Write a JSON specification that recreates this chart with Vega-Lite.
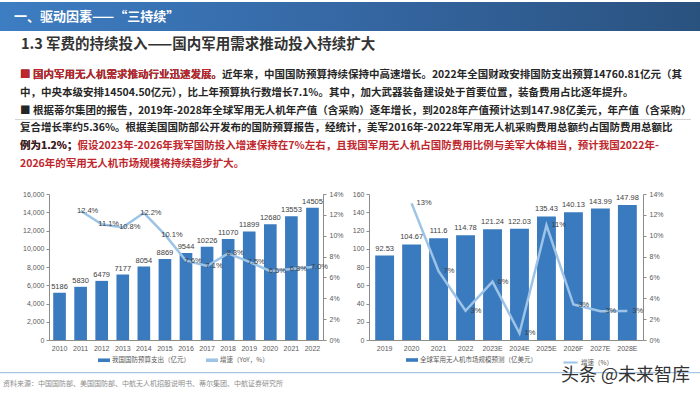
{
  "$schema": "https://vega.github.io/schema/vega-lite/v6.json",
  "padding": {"top": 2, "left": 0, "right": 0, "bottom": 0},
  "background": "white",
  "bounds": "flush",
  "spacing": 0,
  "datasets": {
    "one": [{"k": 1}],
    "header": [{"t": "一、驱动因素——“三持续”"}],
    "sub": [{"t": "1.3 军费的持续投入——国内军用需求推动投入持续扩大"}],
    "body": [
      {"line": 1, "tone": "k", "t": "■ 国内军用无人机需求推动行业迅速发展。近年来，中国国防预算持续保持中高速增长。2022年全国财政安排国防支出预算14760.81亿元（其"},
      {"line": 1, "tone": "r", "t": "■ 国内军用无人机需求推动行业迅速发展。"},
      {"line": 2, "tone": "k", "t": "　 中，中央本级安排14504.50亿元），比上年预算执行数增长7.1%。其中，加大武器装备建设处于首要位置，装备费用占比逐年提升。"},
      {"line": 3, "tone": "k", "t": "■ 根据蒂尔集团的报告，2019年-2028年全球军用无人机年产值（含采购）逐年增长，到2028年产值预计达到147.98亿美元，年产值（含采购）"},
      {"line": 4, "tone": "k", "t": "　 复合增长率约5.36%。根据美国国防部公开发布的国防预算报告，经统计，美军2016年-2022年军用无人机采购费用总额约占国防费用总额比"},
      {"line": 5, "tone": "r", "t": "　 例为1.2%；假设2023年-2026年我军国防投入增速保持在7%左右，且我国军用无人机占国防费用比例与美军大体相当，预计我国2022年-"},
      {"line": 5, "tone": "k", "t": "　 例为1.2%；"},
      {"line": 6, "tone": "r", "t": "　 2026年的军用无人机市场规模将持续稳步扩大。"}
    ],
    "budget": [
      {"year": "2010", "v": 5186, "g": null},
      {"year": "2011", "v": 5830, "g": 0.124},
      {"year": "2012", "v": 6479, "g": 0.111},
      {"year": "2013", "v": 7177, "g": 0.108},
      {"year": "2014", "v": 8054, "g": 0.122},
      {"year": "2015", "v": 8869, "g": 0.101},
      {"year": "2016", "v": 9544, "g": 0.076},
      {"year": "2017", "v": 10226, "g": 0.071},
      {"year": "2018", "v": 11070, "g": 0.083},
      {"year": "2019", "v": 11899, "g": 0.075},
      {"year": "2020", "v": 12680, "g": 0.066},
      {"year": "2021", "v": 13553, "g": 0.068},
      {"year": "2022", "v": 14505, "g": 0.070}
    ],
    "uav": [
      {"year": "2019", "v": 92.53, "g": null},
      {"year": "2020", "v": 104.67, "g": 0.131},
      {"year": "2021", "v": 111.6, "g": 0.066},
      {"year": "2022", "v": 114.78, "g": 0.028},
      {"year": "2023E", "v": 121.24, "g": 0.056},
      {"year": "2024E", "v": 122.03, "g": 0.0065},
      {"year": "2025E", "v": 135.43, "g": 0.110},
      {"year": "2026F", "v": 140.13, "g": 0.034},
      {"year": "2027E", "v": 143.99, "g": 0.0275},
      {"year": "2028E", "v": 147.98, "g": 0.0278}
    ],
    "footer": [{"src": "资料来源：中国国防部、美国国防部、中航无人机招股说明书、蒂尔集团、中航证券研究所", "wm": "头条 @未来智库"}]
  },
  "vconcat": [
    {
      "width": 700, "height": 29,
      "data": {"name": "header"},
      "layer": [
        {"mark": {"type": "bar", "color": {"gradient": "linear", "x1": 0, "x2": 1, "y1": 0, "y2": 0, "stops": [{"offset": 0, "color": "#3d7dc2"}, {"offset": 0.55, "color": "#3465a0"}, {"offset": 1, "color": "#2a527f"}]}}, "encoding": {}},
        {"mark": {"type": "text", "align": "left", "baseline": "middle", "dx": 14, "font": "Noto Sans CJK SC", "fontSize": 13, "fontWeight": "bold", "color": "white"},
         "encoding": {"x": {"datum": 0, "type": "quantitative", "scale": {"domain": [0, 1]}, "axis": null}, "text": {"field": "t"}}}
      ]
    },
    {
      "width": 700, "height": 26,
      "data": {"name": "sub"},
      "mark": {"type": "text", "align": "left", "baseline": "middle", "dx": 21, "dy": 1, "font": "Noto Sans CJK SC", "fontSize": 14.5, "fontWeight": "bold", "color": "#333333"},
      "encoding": {"x": {"datum": 0, "type": "quantitative", "scale": {"domain": [0, 1]}, "axis": null}, "text": {"field": "t"}}
    },
    {
      "width": 700, "height": 125,
      "data": {"name": "body"},
      "layer": [
        {"data": {"name": "one"}, "mark": {"type": "bar", "fill": "#f6f6f6", "stroke": "#d4d4d4", "strokeWidth": 1},
         "encoding": {"x": {"datum": 0, "type": "quantitative", "scale": {"domain": [0, 1], "range": [15, 691]}, "axis": null}, "x2": {"datum": 1}}},
        {"mark": {"type": "text", "align": "left", "baseline": "middle", "dx": 5, "font": "Noto Sans CJK SC", "fontSize": 10.5, "fontWeight": "bold"},
         "encoding": {
           "x": {"datum": 0, "type": "quantitative"},
           "y": {"field": "line", "type": "ordinal", "scale": {"type": "point", "padding": 1}, "axis": null},
           "color": {"condition": {"test": "datum.tone === 'r'", "value": "#c0272d"}, "value": "#262626"},
           "text": {"field": "t"}}}
      ]
    },
    {"width": 700, "height": 12, "data": {"name": "one"}, "mark": {"type": "bar", "opacity": 0}, "encoding": {}},
    {
      "width": 700, "height": 146,
      "layer": [
        {
          "data": {"name": "budget"},
          "encoding": {"x": {"field": "year", "type": "ordinal", "scale": {"range": [49, 323], "paddingInner": 0.4, "paddingOuter": 0.2}, "axis": {"orient": "bottom", "labelAngle": 0, "ticks": false, "labelPadding": 4}}},
          "layer": [
            {
              "encoding": {"y": {"field": "v", "type": "quantitative", "scale": {"domain": [0, 16000]}, "axis": {"orient": "left", "offset": -49, "values": [0, 2000, 4000, 6000, 8000, 10000, 12000, 14000, 16000], "labelPadding": 2}}},
              "layer": [
                {"mark": {"type": "bar"},
                 "encoding": {"color": {"datum": "我国国防预算支出（亿元）", "scale": {"domain": ["我国国防预算支出（亿元）", "增速（YoY，%）"], "range": ["#3a7abf", "#9dc3e6"]},
                   "legend": {"orient": "none", "legendX": 98, "legendY": 352, "direction": "horizontal", "title": null, "labelFont": "Noto Sans CJK SC", "labelFontSize": 6.5, "labelColor": "#595959", "columnPadding": 16, "labelOffset": 2, "symbolSize": 144, "symbolType": "M-1,-0.3H1V0.3H-1Z", "symbolStrokeWidth": 0}}}},
                {"mark": {"type": "text", "baseline": "bottom", "dy": -2, "fontSize": 7.5, "color": "#404040"},
                 "encoding": {"text": {"field": "v", "type": "quantitative", "format": "d"}}}
              ]
            },
            {
              "transform": [{"filter": "isValid(datum.g)"}],
              "encoding": {"y": {"field": "g", "type": "quantitative", "scale": {"domain": [0, 0.14]}, "axis": {"orient": "right", "offset": -377, "format": ".0%", "values": [0, 0.02, 0.04, 0.06, 0.08, 0.1, 0.12, 0.14], "labelPadding": 3}}},
              "layer": [
                {"mark": {"type": "line", "strokeWidth": 2.5}, "encoding": {"color": {"datum": "增速（YoY，%）"}}},
                {"mark": {"type": "text", "align": "center", "baseline": "middle", "dx": 7, "fontSize": 7.5, "color": "#404040"},
                 "encoding": {"text": {"field": "g", "type": "quantitative", "format": ".1%"}}}
              ]
            }
          ],
          "resolve": {"scale": {"y": "independent"}}
        },
        {
          "data": {"name": "uav"},
          "encoding": {"x": {"field": "year", "type": "ordinal", "scale": {"range": [369, 643], "paddingInner": 0.3, "paddingOuter": 0.23}, "axis": {"orient": "bottom", "labelAngle": 0, "ticks": false, "labelPadding": 4}}},
          "layer": [
            {
              "encoding": {"y": {"field": "v", "type": "quantitative", "scale": {"domain": [0, 160]}, "axis": {"orient": "left", "offset": -369, "values": [0, 20, 40, 60, 80, 100, 120, 140, 160], "labelPadding": 2}}},
              "layer": [
                {"mark": {"type": "bar"},
                 "encoding": {"fill": {"datum": "全球军用无人机市场规模预测（亿美元）", "scale": {"range": ["#3a7abf"]},
                   "legend": {"orient": "none", "legendX": 406, "legendY": 352, "title": null, "labelFont": "Noto Sans CJK SC", "labelFontSize": 6.5, "labelColor": "#595959", "labelOffset": 2, "symbolSize": 144, "symbolType": "M-1,-0.3H1V0.3H-1Z", "symbolStrokeWidth": 0}}}},
                {"mark": {"type": "text", "baseline": "bottom", "dy": -3, "fontSize": 7.5, "color": "#404040"},
                 "encoding": {"text": {"field": "v", "type": "quantitative", "format": ".5~r"}}}
              ]
            },
            {
              "transform": [{"filter": "isValid(datum.g)"}],
              "encoding": {"y": {"field": "g", "type": "quantitative", "scale": {"domain": [0, 0.14]}, "axis": {"orient": "right", "offset": -57, "format": ".0%", "values": [0, 0.02, 0.04, 0.06, 0.08, 0.1, 0.12, 0.14], "labelPadding": 3}}},
              "layer": [
                {"mark": {"type": "line", "strokeWidth": 2.5},
                 "encoding": {"stroke": {"datum": "增速（%）", "scale": {"range": ["#9dc3e6"]},
                   "legend": {"orient": "none", "legendX": 562, "legendY": 352, "title": null, "labelFont": "Noto Sans CJK SC", "labelFontSize": 6.5, "labelColor": "#595959", "labelOffset": 2, "symbolSize": 200, "symbolType": "stroke", "symbolStrokeWidth": 2}}}},
                {"mark": {"type": "text", "align": "left", "baseline": "middle", "dx": 5, "fontSize": 7.5, "color": "#404040"},
                 "encoding": {"text": {"field": "g", "type": "quantitative", "format": ".0%"}}}
              ]
            }
          ],
          "resolve": {"scale": {"y": "independent"}}
        }
      ],
      "resolve": {"scale": {"x": "independent", "y": "independent"}}
    },
    {"width": 700, "height": 32, "data": {"name": "one"}, "mark": {"type": "bar", "opacity": 0}, "encoding": {}},
    {"width": 700, "height": 1.2, "data": {"name": "one"}, "mark": {"type": "bar", "color": "#a9c7e4"}, "encoding": {}},
    {
      "width": 700, "height": 20,
      "data": {"name": "footer"},
      "layer": [
        {"mark": {"type": "text", "align": "left", "baseline": "middle", "dx": 3, "font": "Noto Sans CJK SC", "fontSize": 7, "color": "#8c8c8c"},
         "encoding": {"x": {"datum": 0, "type": "quantitative", "scale": {"domain": [0, 1]}, "axis": null}, "text": {"field": "src"}}},
        {"mark": {"type": "text", "align": "right", "baseline": "middle", "dx": -10, "dy": -8, "font": "Noto Sans CJK SC", "fontSize": 18, "color": "#333333"},
         "encoding": {"x": {"datum": 1, "type": "quantitative"}, "text": {"field": "wm"}}}
      ]
    }
  ],
  "config": {
    "view": {"stroke": null},
    "font": "Liberation Sans",
    "axis": {"labelFont": "Liberation Sans", "labelFontSize": 7, "labelColor": "#595959", "domainColor": "#8c8c8c", "tickColor": "#8c8c8c", "tickSize": 3, "grid": false, "title": null}
  }
}
